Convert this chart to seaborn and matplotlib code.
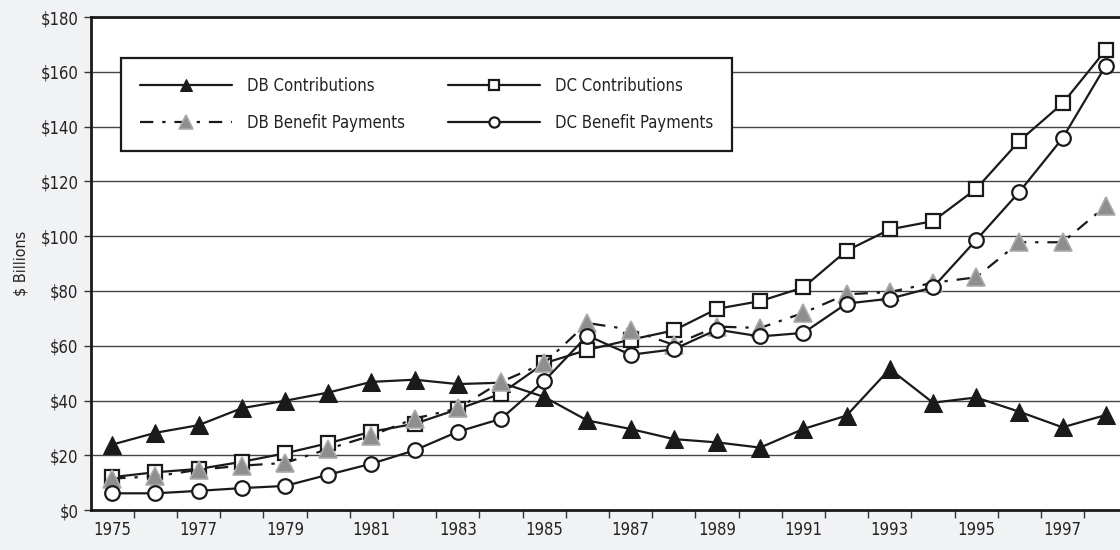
import matplotlib
matplotlib.use('Agg')
import matplotlib.pyplot as plt
import seaborn as sns
from matplotlib.ticker import FixedLocator, NullFormatter

years = list(range(1975, 1999))

db_contrib = [23.9, 28.2, 31.0, 37.2, 39.9, 42.9, 46.8, 47.6, 46.0, 46.5, 41.3, 32.7,
              29.6, 25.9, 24.7, 22.8, 29.6, 34.5, 51.5, 39.2, 41.1, 35.9, 30.2, 34.7]
dc_contrib = [12.0, 13.8, 15.0, 17.6, 20.7, 24.4, 28.6, 31.5, 36.8, 42.5, 53.6, 58.5,
              62.2, 65.6, 73.5, 76.3, 81.3, 94.7, 102.5, 105.5, 117.3, 134.8, 148.5, 168.0]
db_benefit = [11.5, 12.3, 14.7, 16.2, 17.2, 22.3, 27.2, 33.4, 37.1, 46.8, 53.6, 68.3,
              65.9, 60.3, 67.0, 66.5, 72.0, 78.8, 79.6, 83.0, 85.0, 97.8, 97.8, 111.0]
dc_benefit = [6.1, 6.1, 7.0, 8.0, 8.8, 12.9, 16.9, 21.8, 28.6, 33.3, 47.1, 63.7,
              56.7, 58.7, 65.9, 63.4, 64.7, 75.4, 77.2, 81.3, 98.6, 116.2, 135.8, 162.3]

y_ticks = list(range(0, 181, 20))
x_labels = list(range(1975, 1998, 2))

sns.set_theme(style='white')
plt.rcParams['font.family'] = ['DejaVu Sans']
plt.rcParams['font.stretch'] = 'condensed'
txt = '#222222'

fig = plt.figure(figsize=(11.2, 5.5), dpi=100, facecolor='#f1f2f4')
ax = fig.add_axes([0.0813, 0.0727, 0.9187, 0.896])
ax.set_facecolor('white')

ax.set_ylim(0, 180)
ax.set_xlim(1974.51, 1998.33)

# horizontal rules
for v in y_ticks[1:]:
    ax.axhline(v, color='#444444', lw=1.0, zorder=0)

lw = 1.6
sns.lineplot(x=years, y=db_contrib, ax=ax, color='#1a1a1a', lw=lw,
             marker='^', markersize=13, markerfacecolor='#1a1a1a',
             markeredgecolor='#1a1a1a', label='DB Contributions', zorder=3)
sns.lineplot(x=years, y=dc_contrib, ax=ax, color='#1a1a1a', lw=lw,
             marker='s', markersize=10, markerfacecolor='white',
             markeredgecolor='#1a1a1a', markeredgewidth=1.6,
             label='DC Contributions', zorder=4)
sns.lineplot(x=years, y=db_benefit, ax=ax, color='#1a1a1a', lw=lw,
             linestyle=(0, (6, 4, 1.5, 4)),
             marker='^', markersize=13.5, markerfacecolor='#8e8e8e',
             markeredgecolor='#aaaaaa', markeredgewidth=1.2,
             label='DB Benefit Payments', zorder=5)
sns.lineplot(x=years, y=dc_benefit, ax=ax, color='#1a1a1a', lw=lw,
             marker='o', markersize=10.5, markerfacecolor='white',
             markeredgecolor='#1a1a1a', markeredgewidth=1.6,
             label='DC Benefit Payments', zorder=6)

handles, labels = ax.get_legend_handles_labels()
order = [0, 2, 1, 3]
leg = ax.legend([handles[i] for i in order], [labels[i] for i in order],
                ncol=2, loc='upper left', bbox_to_anchor=(0.029, 0.917),
                borderaxespad=0, frameon=True, fancybox=False, edgecolor='#1a1a1a',
                framealpha=1, fontsize=12, handlelength=5.5, markerscale=0.7,
                columnspacing=2.6, borderpad=1.15, labelspacing=1.1,
                handletextpad=0.9, labelcolor=txt)
leg.get_frame().set_linewidth(1.6)
leg.set_zorder(10)

ax.set_yticks(y_ticks)
ax.set_yticklabels([f'${v}' for v in y_ticks], fontsize=12, color=txt)

# tick marks sit between years, labels on every other year
ax.xaxis.set_major_locator(FixedLocator([y + 0.5 for y in range(1974, 1999)]))
ax.xaxis.set_major_formatter(NullFormatter())
ax.set_xticks(x_labels, minor=True)
ax.set_xticklabels([str(v) for v in x_labels], minor=True, fontsize=12, color=txt)
ax.tick_params(axis='x', which='major', direction='out', length=6, width=1, color='#333333', bottom=True)
ax.tick_params(axis='x', which='minor', length=0, pad=8, bottom=True)
ax.tick_params(axis='y', direction='out', length=5, width=1, color='#333333', left=True, pad=4)

for side in ['left', 'bottom', 'top']:
    ax.spines[side].set_color('#1a1a1a')
    ax.spines[side].set_linewidth(2)
ax.spines['right'].set_visible(False)

ax.set_ylabel('$ Billions', fontsize=11.5, labelpad=9, color=txt)
ax.set_xlabel('')

fig.savefig('out.png', dpi=100, facecolor=fig.get_facecolor())
